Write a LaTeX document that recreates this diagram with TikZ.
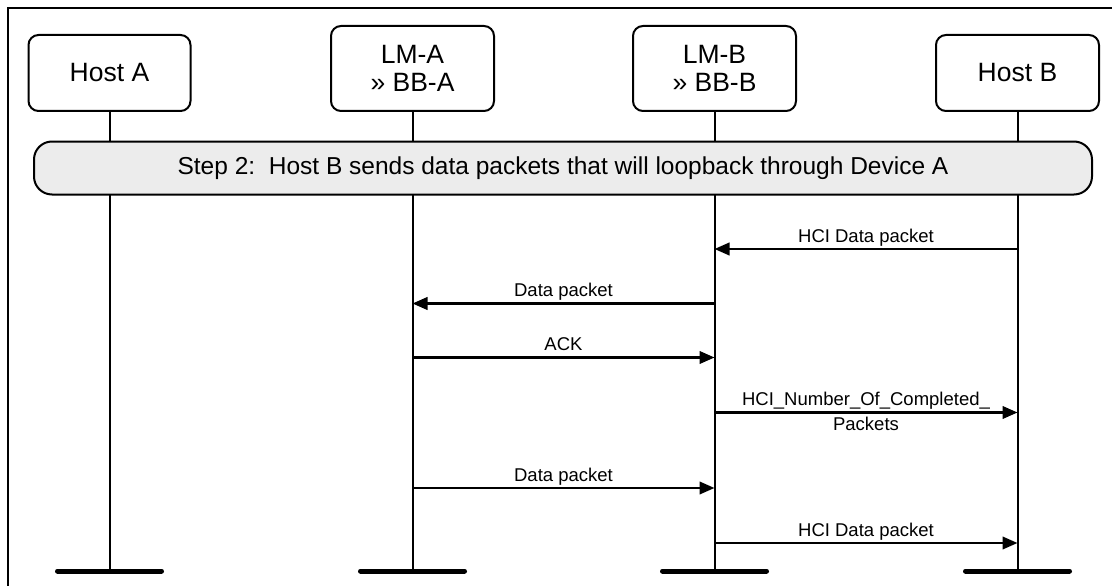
\documentclass[tikz,border=0pt]{standalone}
\usepackage{fontspec}
\setmainfont{Liberation Sans}
\usetikzlibrary{arrows.meta}
\begin{document}
\begin{tikzpicture}[x=1pt,y=-1pt,
  actor/.style={draw, line width=2pt, rounded corners=10pt, minimum width=163pt,
    align=center, font=\fontsize{26.5}{27.5}\selectfont, inner sep=0pt},
  life/.style={line width=2pt},
  foot/.style={line width=5pt, line cap=round},
  stepbar/.style={draw, line width=2pt, rounded corners=18pt, fill=gray!15,
    minimum width=1058pt, minimum height=53pt, inner sep=0pt,
    font=\fontsize{24.5}{26}\selectfont},
  msg/.style={line width=2.4pt, -{Triangle[length=15pt,width=12.5pt]}},
  lbl/.style={midway, anchor=base, font=\fontsize{18.5}{20}\selectfont, inner sep=0pt},
]
\useasboundingbox (0,0) rectangle (1112,586);
% frame
\draw[line width=2pt] (8,586) -- (8,8) -- (1112,8);

% actors
\node[actor, minimum height=76pt, minimum width=162pt] (hA) at (109.5,73) {Host A};
\node[actor, minimum height=85pt] (lmA) at (412.5,68.5) {LM-A\\» BB-A};
\node[actor, minimum height=85pt] (lmB) at (714.5,68.5) {LM-B\\» BB-B};
\node[actor, minimum height=76pt] (hB) at (1017.5,73) {Host B};

% lifeline ends
\coordinate (hAe) at (hA.south |- 0,571);
\coordinate (lmAe) at (lmA.south |- 0,571);
\coordinate (lmBe) at (lmB.south |- 0,571);
\coordinate (hBe) at (hB.south |- 0,571);

\draw[life] (hA.south) -- (hAe);
\draw[life] (lmA.south) -- (lmAe);
\draw[life] (lmB.south) -- (lmBe);
\draw[life] (hB.south) -- (hBe);

\draw[foot] (hAe) ++(-52,0) -- ++(104,0);
\draw[foot] (lmAe) ++(-52,0) -- ++(104,0);
\draw[foot] (lmBe) ++(-52,0) -- ++(104,0);
\draw[foot] (hBe) ++(-52,0) -- ++(104,0);

% step bar
\node[stepbar] (step) at (563,168) {Step 2:\ \ Host B sends data packets that will loopback through Device A};

% message coordinates
\coordinate (m1a) at (hB.south |- 0,249);   \coordinate (m1b) at (lmB.south |- 0,249);
\coordinate (m2a) at (lmB.south |- 0,303.5); \coordinate (m2b) at (lmA.south |- 0,303.5);
\coordinate (m3a) at (lmA.south |- 0,357.5); \coordinate (m3b) at (lmB.south |- 0,357.5);
\coordinate (m4a) at (lmB.south |- 0,412.5); \coordinate (m4b) at (hB.south |- 0,412.5);
\coordinate (m5a) at (lmA.south |- 0,488);   \coordinate (m5b) at (lmB.south |- 0,488);
\coordinate (m6a) at (lmB.south |- 0,543);   \coordinate (m6b) at (hB.south |- 0,543);

\draw[msg] (m1a) -- node[lbl, yshift=7pt] {HCI Data packet} (m1b);
\draw[msg] (m2a) -- node[lbl, yshift=7pt] {Data packet} (m2b);
\draw[msg] (m3a) -- node[lbl, yshift=7pt] {ACK} (m3b);
\draw[msg] (m4a) -- node[lbl, yshift=7pt] {HCI\_Number\_Of\_Completed\_}
                    node[lbl, yshift=-17.5pt] {Packets} (m4b);
\draw[msg] (m5a) -- node[lbl, yshift=7pt] {Data packet} (m5b);
\draw[msg] (m6a) -- node[lbl, yshift=7pt] {HCI Data packet} (m6b);
\end{tikzpicture}
\end{document}
